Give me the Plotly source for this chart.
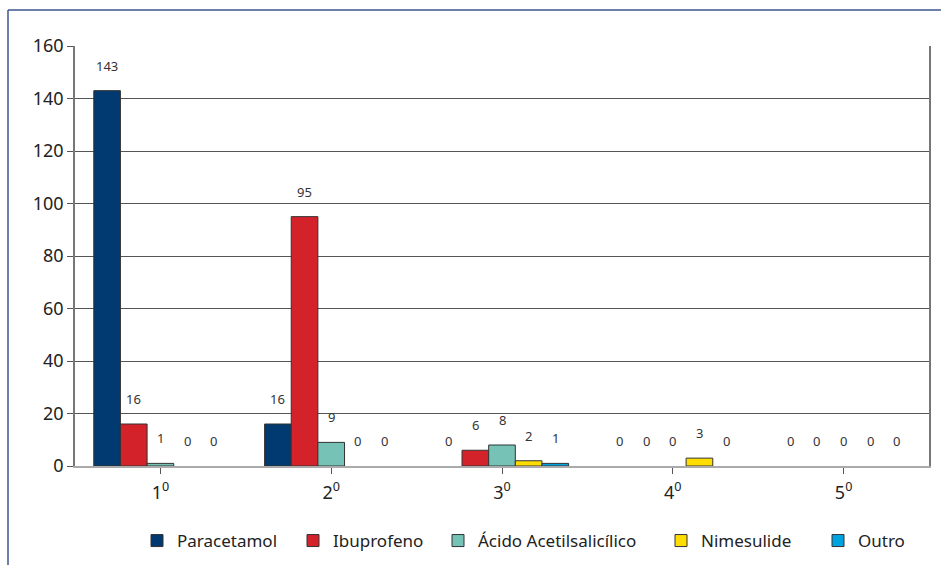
import plotly.graph_objects as go

# Ranking position (1st to 5th choice) and number of answers per drug
categories = ["1º", "2º", "3º", "4º", "5º"]
tick_labels = ["1<sup>0</sup>", "2<sup>0</sup>", "3<sup>0</sup>", "4<sup>0</sup>", "5<sup>0</sup>"]
series_names = ["Paracetamol", "Ibuprofeno", "Ácido Acetilsalicílico", "Nimesulide", "Outro"]
paracetamol = [143, 16, 0, 0, 0]
ibuprofeno = [16, 95, 6, 0, 0]
acido = [1, 9, 8, 0, 0]
nimesulide = [0, 0, 2, 3, 0]
outro = [0, 0, 1, 0, 0]
series_values = [paracetamol, ibuprofeno, acido, nimesulide, outro]
colors = ["#003a70", "#d3222a", "#77c2b6", "#ffdd00", "#00a3e0"]

FONT = "Noto Sans"
BARGAP = 0.22
W, H = 941, 565
L, R, T, B = 75, 12, 46, 99

px = lambda p: (p - L) / (W - L - R)
py = lambda p: (H - B - p) / (H - T - B)

# left pixel of each legend swatch, one legend box per series
legend_left = [151, 307, 452, 675, 832]

fig = go.Figure()
x_idx = list(range(len(categories)))
for k, (name, vals, col) in enumerate(zip(series_names, series_values, colors)):
    fig.add_trace(go.Bar(
        x=x_idx,
        # empty bars are left out so no outline is drawn on the baseline
        y=[v if v > 0 else None for v in vals],
        name=name,
        legend="legend" if k == 0 else f"legend{k + 1}",
        marker=dict(color=col, line=dict(color="#333333", width=1)),
    ))

# value labels above each bar
n = len(series_names)
bw = (1 - BARGAP) / n
annotations = []
for j, vals in enumerate(series_values):
    for i, v in enumerate(vals):
        xc = i - (1 - BARGAP) / 2 + bw * (j + 0.5)
        annotations.append(dict(
            x=xc, y=v, xref="x", yref="y", text=str(v), showarrow=False,
            yshift=25, font=dict(family=FONT, size=13, color="#333333"),
        ))

# outer frame (left and top edges)
frame = dict(color="#3d5690", width=1.5)
shapes = [
    dict(type="line", xref="paper", yref="paper", x0=px(8), x1=px(8), y0=py(10), y1=py(H + 5), line=frame),
    dict(type="line", xref="paper", yref="paper", x0=px(8), x1=px(W + 5), y0=py(10), y1=py(10), line=frame),
]

legend_style = dict(orientation="h", yanchor="middle", y=py(541), xanchor="left",
                    font=dict(family=FONT, size=17, color="#222222"),
                    itemwidth=30, bgcolor="rgba(0,0,0,0)")
legends = {}
for k, left in enumerate(legend_left):
    key = "legend" if k == 0 else f"legend{k + 1}"
    legends[key] = dict(legend_style, x=px(left - 14))

fig.update_layout(
    width=W, height=H,
    margin=dict(l=L, r=R, t=T, b=B, autoexpand=False),
    paper_bgcolor="white", plot_bgcolor="white",
    barmode="group", bargap=BARGAP, bargroupgap=0,
    showlegend=True,
    annotations=annotations, shapes=shapes,
    font=dict(family=FONT, color="#222222"),
    **legends,
)
fig.update_xaxes(
    range=[-0.5, len(categories) - 0.5],
    tickvals=x_idx, ticktext=tick_labels,
    tickfont=dict(family=FONT, size=18, color="#222222"),
    ticks="outside", ticklen=6, tickcolor="#555555", tickson="boundaries",
    ticklabelstandoff=3,
    showline=True, linecolor="#aaaaaa", linewidth=2,
    showgrid=False, zeroline=False,
)
fig.update_yaxes(
    range=[0, 160], dtick=20,
    tickfont=dict(family=FONT, size=18, color="#222222"),
    ticks="outside", ticklen=6, tickcolor="#555555",
    showgrid=True, gridcolor="#555555", gridwidth=1,
    showline=True, linecolor="#777777", linewidth=1.5, mirror=True,
    zeroline=False,
)

fig.write_html("out.html")
